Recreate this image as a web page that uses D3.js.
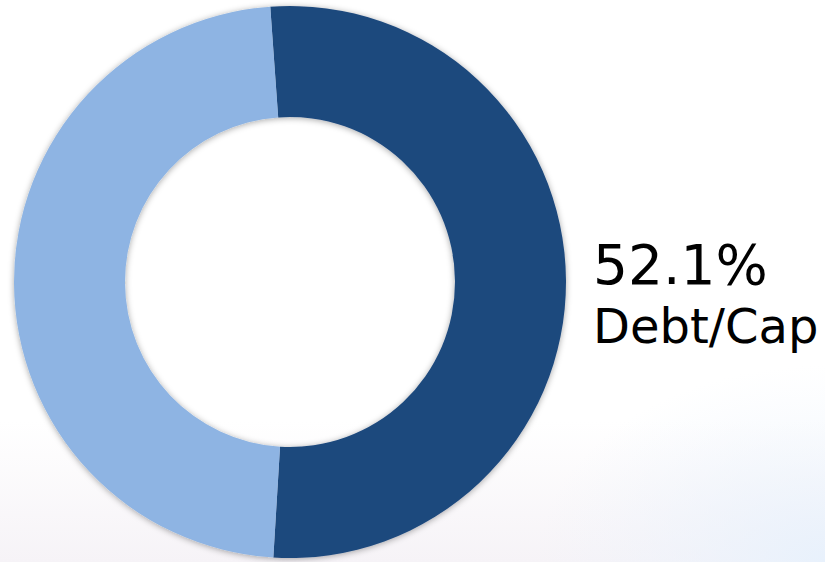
<!DOCTYPE html>
<html>
<head>
<meta charset="utf-8">
<script src="https://cdn.jsdelivr.net/npm/d3@7"></script>
<style>
  body { margin: 0; background: #fff; }
  svg { display: block; }
</style>
</head>
<body>
<div class="chart"></div>
<script>
var svgWidth = 825;
var svgHeight = 562;

// data
var categories = ["Debt", "Equity"];
var shares = [52.1, 47.9];
var colors = ["#1F497D", "#8EB4E3"];
var labelValue = "52.1%";
var labelText = "Debt/Cap";

var cx = 290, cy = 282;
var outerR = 276, innerR = 165;

var svg = d3.select(".chart")
  .append("svg")
  .attr("width", svgWidth)
  .attr("height", svgHeight);

var defs = svg.append("defs");

// faint background tint at the bottom
var bg = defs.append("linearGradient")
  .attr("id", "bgGrad")
  .attr("x1", 0).attr("y1", 0).attr("x2", 0).attr("y2", 1);
bg.append("stop").attr("offset", "0.75").attr("stop-color", "#ffffff");
bg.append("stop").attr("offset", "1").attr("stop-color", "#f6f3f7");

var bg2 = defs.append("radialGradient")
  .attr("id", "bgGrad2")
  .attr("cx", 1).attr("cy", 1).attr("r", 0.35);
bg2.append("stop").attr("offset", "0").attr("stop-color", "#e8f1fc").attr("stop-opacity", 1);
bg2.append("stop").attr("offset", "1").attr("stop-color", "#eef4fc").attr("stop-opacity", 0);

svg.append("rect")
  .attr("width", svgWidth).attr("height", svgHeight)
  .attr("fill", "url(#bgGrad)");

svg.append("rect")
  .attr("width", svgWidth).attr("height", svgHeight)
  .attr("fill", "url(#bgGrad2)");

// soft shadow round the ring
var shadow = defs.append("filter")
  .attr("id", "shadow")
  .attr("x", "-10%").attr("y", "-10%")
  .attr("width", "120%").attr("height", "120%");
shadow.append("feDropShadow")
  .attr("dx", 0).attr("dy", 1)
  .attr("stdDeviation", 3)
  .attr("flood-color", "#000")
  .attr("flood-opacity", 0.35);

var startAngle = -4.1 * Math.PI / 180;

var pie = d3.pie()
  .sort(null)
  .startAngle(startAngle)
  .endAngle(startAngle + 2 * Math.PI);

var arc = d3.arc()
  .innerRadius(innerR)
  .outerRadius(outerR);

var chartGroup = svg.append("g")
  .attr("transform", `translate(${cx}, ${cy})`)
  .attr("filter", "url(#shadow)");

chartGroup.selectAll("path")
  .data(pie(shares))
  .enter()
  .append("path")
  .attr("d", arc)
  .attr("fill", (d, i) => colors[i])
  .attr("stroke", "none");

// label
svg.append("text")
  .attr("x", 593)
  .attr("y", 284)
  .attr("font-family", "Verdana, 'DejaVu Sans', sans-serif")
  .attr("font-size", 55)
  .attr("fill", "#000")
  .text(labelValue);

svg.append("text")
  .attr("x", 593)
  .attr("y", 343)
  .attr("font-family", "Verdana, 'DejaVu Sans', sans-serif")
  .attr("font-size", 48)
  .attr("fill", "#000")
  .text(labelText);
</script>
</body>
</html>
